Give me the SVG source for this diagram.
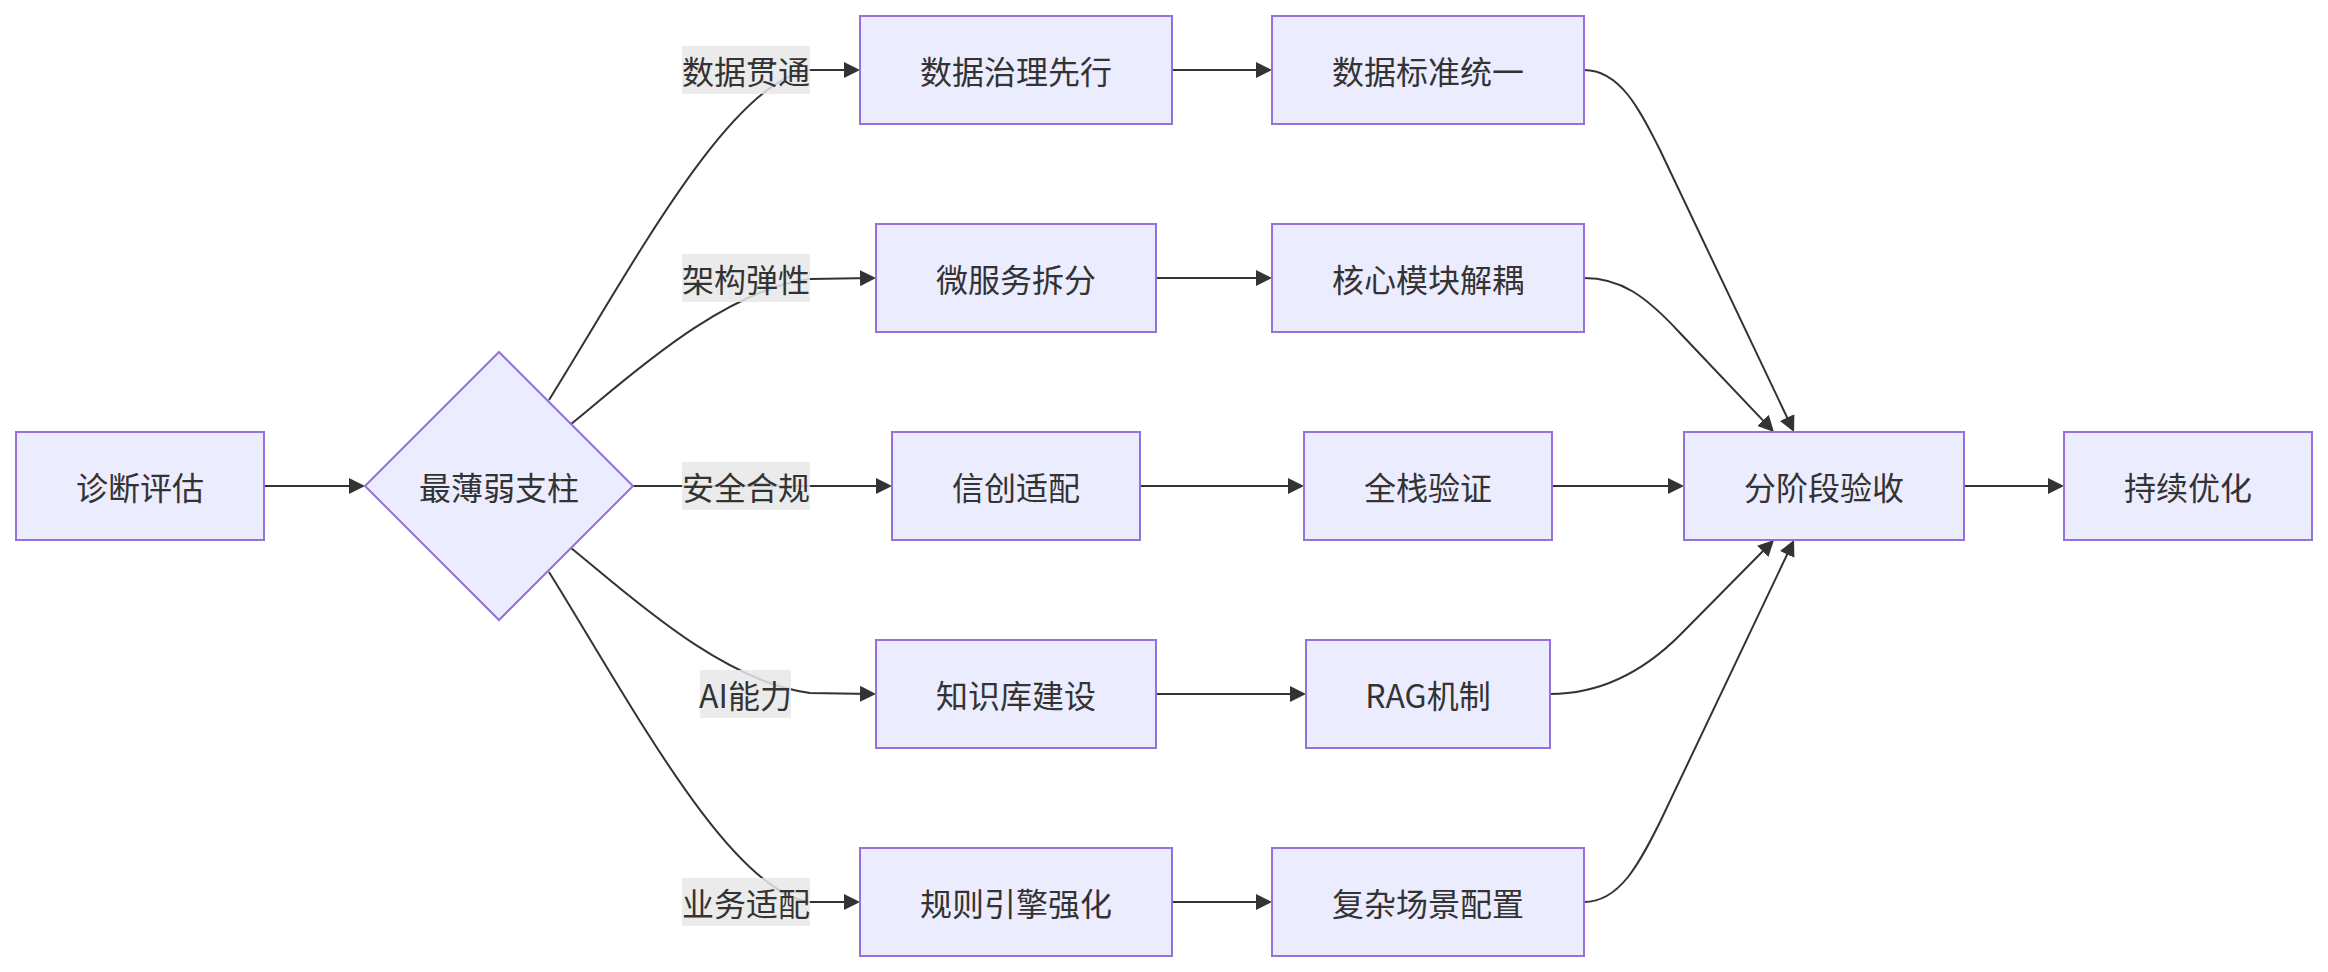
<svg xmlns="http://www.w3.org/2000/svg" width="2328" height="972" viewBox="0 0 2328 972">
<style>
.node rect,.node polygon{fill:#ECECFF;stroke:#9370DB;stroke-width:2}
text{font-family:"Noto Sans CJK SC","Noto Sans",sans-serif;font-size:32px;fill:#333;text-anchor:middle;dominant-baseline:central}
.edge{fill:none;stroke:#333;stroke-width:2;marker-end:url(#arrow)}
.lbl rect{fill:#e8e8e8;fill-opacity:0.85}
</style>
<defs>
<marker id="arrow" viewBox="0 0 10 10" refX="7.5" refY="5" markerWidth="16" markerHeight="16" markerUnits="userSpaceOnUse" orient="auto">
<path d="M0,0 L10,5 L0,10 z" fill="#333"/>
</marker>
</defs>
<rect width="2328" height="972" fill="#fff"/>
<g id="connectors">
<path class="edge" d="M264,486 L361,486"/>
<path class="edge" d="M549,400 C630,270 730,80 810,70 L856,70"/>
<path class="edge" d="M571,424 C620,385 720,290 810,279 L872,278"/>
<path class="edge" d="M633,486 L888,486"/>
<path class="edge" d="M571,548 C620,587 720,682 810,693 L872,694"/>
<path class="edge" d="M549,572 C630,702 730,892 810,902 L856,902"/>
<path class="edge" d="M1172,70 L1268,70"/>
<path class="edge" d="M1156,278 L1268,278"/>
<path class="edge" d="M1140,486 L1300,486"/>
<path class="edge" d="M1156,694 L1302,694"/>
<path class="edge" d="M1172,902 L1268,902"/>
<path class="edge" d="M1584,70 C1620,70 1640,110 1660,150 L1792.3,428.4"/>
<path class="edge" d="M1584,278 C1620,278 1645,295 1680,333 L1771.2,429.1"/>
<path class="edge" d="M1552,486 L1680,486"/>
<path class="edge" d="M1550,694 C1595,694 1640,675 1680,635 L1771.2,542.8"/>
<path class="edge" d="M1584,902 C1620,902 1640,862 1660,822 L1792.3,543.6"/>
<path class="edge" d="M1964,486 L2060,486"/>
</g>
<g id="edge-labels">
<g class="lbl"><rect x="682" y="46" width="128" height="48"/><text x="746" y="70">数据贯通</text></g>
<g class="lbl"><rect x="682" y="254" width="128" height="48"/><text x="746" y="278">架构弹性</text></g>
<g class="lbl"><rect x="682" y="462" width="128" height="48"/><text x="746" y="486">安全合规</text></g>
<g class="lbl"><rect x="700" y="670" width="91" height="48"/><text x="745.5" y="694">AI能力</text></g>
<g class="lbl"><rect x="682" y="878" width="128" height="48"/><text x="746" y="902">业务适配</text></g>
</g>
<g id="node-A" class="node"><rect x="16" y="432" width="248" height="108"/><text x="140" y="486">诊断评估</text></g>
<g id="node-B" class="node"><polygon points="499,352 633,486 499,620 365,486"/><text x="499" y="486">最薄弱支柱</text></g>
<g id="node-C1" class="node"><rect x="860" y="16" width="312" height="108"/><text x="1016" y="70">数据治理先行</text></g>
<g id="node-C2" class="node"><rect x="876" y="224" width="280" height="108"/><text x="1016" y="278">微服务拆分</text></g>
<g id="node-C3" class="node"><rect x="892" y="432" width="248" height="108"/><text x="1016" y="486">信创适配</text></g>
<g id="node-C4" class="node"><rect x="876" y="640" width="280" height="108"/><text x="1016" y="694">知识库建设</text></g>
<g id="node-C5" class="node"><rect x="860" y="848" width="312" height="108"/><text x="1016" y="902">规则引擎强化</text></g>
<g id="node-D1" class="node"><rect x="1272" y="16" width="312" height="108"/><text x="1428" y="70">数据标准统一</text></g>
<g id="node-D2" class="node"><rect x="1272" y="224" width="312" height="108"/><text x="1428" y="278">核心模块解耦</text></g>
<g id="node-D3" class="node"><rect x="1304" y="432" width="248" height="108"/><text x="1428" y="486">全栈验证</text></g>
<g id="node-D4" class="node"><rect x="1306" y="640" width="244" height="108"/><text x="1428" y="694">RAG机制</text></g>
<g id="node-D5" class="node"><rect x="1272" y="848" width="312" height="108"/><text x="1428" y="902">复杂场景配置</text></g>
<g id="node-E" class="node"><rect x="1684" y="432" width="280" height="108"/><text x="1824" y="486">分阶段验收</text></g>
<g id="node-F" class="node"><rect x="2064" y="432" width="248" height="108"/><text x="2188" y="486">持续优化</text></g>
</svg>
